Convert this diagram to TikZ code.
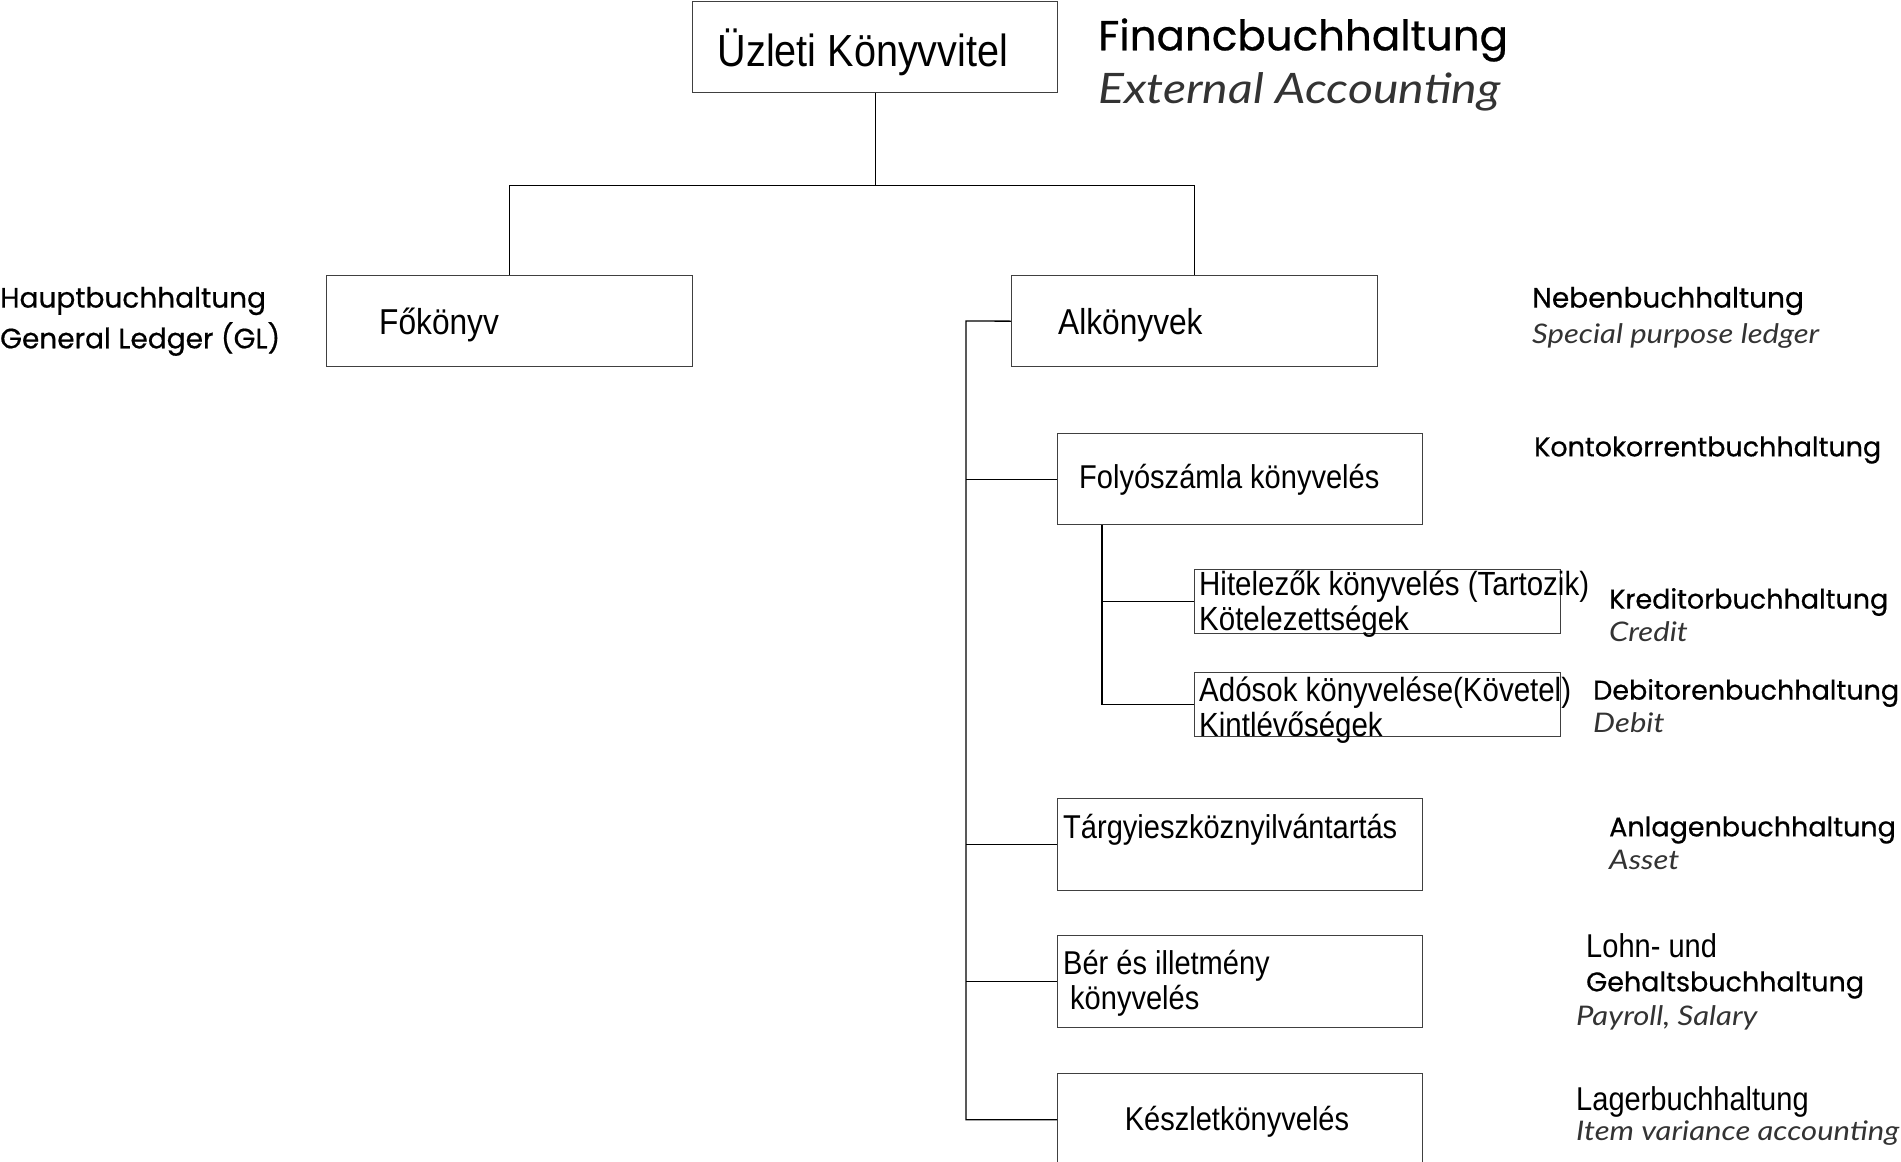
\documentclass[tikz,border=0pt]{standalone}
\usepackage{fontspec}
\setmainfont{Liberation Sans}
\newfontfamily\boxfont{Liberation Sans}[FakeStretch=0.88]
\newfontfamily\comicfont{Poppins}[FakeBold=0.6]
\newfontfamily\handfont{Lato}[FakeStretch=1.15]
\usetikzlibrary{calc}
\begin{document}
\begin{tikzpicture}[x=1pt,y=-1pt,
  box/.style={draw=black!75,line width=1.3pt,rectangle,inner sep=0pt,anchor=north west},
  link/.style={draw=black,line width=1.3pt},
  boxtext/.style={inner sep=0pt,font=\boxfont\fontsize{#1}{#1}\selectfont,align=left},
  boxtext/.default=33,
  de/.style={inner sep=0pt,anchor=west,font=\comicfont\fontsize{#1}{#1}\selectfont},
  de/.default=28,
  en/.style={inner sep=0pt,anchor=west,text=black!80,font=\handfont\itshape\fontsize{#1}{#1}\selectfont},
  en/.default=27]
\useasboundingbox (0,0) rectangle (1901,1162);

% boxes of the ledger tree
\node[box,minimum width=365pt,minimum height=91pt] (top) at (692,1) {};
\node[box,minimum width=366pt,minimum height=91pt] (fo) at (326,275) {};
\node[box,minimum width=366pt,minimum height=91pt] (alk) at (1011,275) {};
\node[box,minimum width=365pt,minimum height=91pt] (folyo) at (1057,433) {};
\node[box,minimum width=366pt,minimum height=64pt] (hitel) at (1194,569) {};
\node[box,minimum width=366pt,minimum height=64pt] (ados) at (1194,672) {};
\node[box,minimum width=365pt,minimum height=92pt] (targy) at (1057,798) {};
\node[box,minimum width=365pt,minimum height=92pt] (ber) at (1057,935) {};
\node[box,minimum width=365pt,minimum height=92pt] (kesz) at (1057,1073) {};

% texts inside the boxes
\node[boxtext=45] (top-t) at (863,52) {Üzleti Könyvvitel};
\node[boxtext=36,anchor=west] (fo-t) at (379,325) {Főkönyv};
\node[boxtext=36,anchor=west] (alk-t) at (1058,325) {Alkönyvek};
\node[boxtext,anchor=west] (folyo-t) at (1079,480) {Folyószámla könyvelés};
\node[boxtext,anchor=west,font=\boxfont\fontsize{33.5}{34.5}\selectfont] (hitel-t) at (1199,604) {Hitelezők könyvelés (Tartozik)\\Kötelezettségek};
\node[boxtext,anchor=west,font=\boxfont\fontsize{33.5}{34.5}\selectfont] (ados-t) at (1199,710) {Adósok könyvelése(Követel)\\Kintlévőségek};
\node[boxtext,anchor=west] (targy-t) at (1063,830) {Tárgyieszköznyilvántartás};
\node[boxtext,anchor=west,font=\boxfont\fontsize{33}{35}\selectfont] (ber-t) at (1063,983) {Bér és illetmény\\\hspace*{7pt}könyvelés};
\node[boxtext] (kesz-t) at (1237,1122) {Készletkönyvelés};

% connectors
\draw[link] (top.south) -- ++(0,92) coordinate (split) -| (fo.north);
\draw[link] (split) -| (alk.north);
\coordinate (bus) at (966,321);
\draw[link] (alk.west) -- (bus) |- (kesz.west);
\draw[link] (bus |- folyo.west) -- (folyo.west);
\draw[link] (bus |- targy.west) -- (targy.west);
\draw[link] (bus |- ber.west) -- (ber.west);
\coordinate (sub) at ($(folyo.south west)+(45,0)$);
\draw[link] (sub) |- (ados.west);
\draw[link] (sub |- hitel.west) -- (hitel.west);

% German and English names
\node[de=42] (fin) at (1098,40) {Financbuchhaltung};
\node[en=42] (ext) at (1098,92) {External Accounting};
\node[de] (haupt) at (0,301) {Hauptbuchhaltung};
\node[de] (gl) at (0,339) {General Ledger (GL)};
\node[de] (neben) at (1532,301) {Nebenbuchhaltung};
\node[en] (spl) at (1532,336) {Special purpose ledger};
\node[de=27] (konto) at (1534,450) {Kontokorrentbuchhaltung};
\node[de=27] (kred) at (1609,602) {Kreditorbuchhaltung};
\node[en] (cred) at (1609,632) {Credit};
\node[de=27] (debi) at (1593,693) {Debitorenbuchhaltung};
\node[en] (deb) at (1593,723) {Debit};
\node[de=27] (anl) at (1609,830) {Anlagenbuchhaltung};
\node[en] (ass) at (1609,860) {Asset};
\node[boxtext,anchor=west] (lohn) at (1586,946) {Lohn- und};
\node[de=27] (geh) at (1586,985) {Gehaltsbuchhaltung};
\node[en] (pay) at (1576,1018) {Payroll, Salary};
\node[boxtext,anchor=west] (lager) at (1576,1102) {Lagerbuchhaltung};
\node[en] (item) at (1576,1133) {Item variance accounting};
\end{tikzpicture}
\end{document}
